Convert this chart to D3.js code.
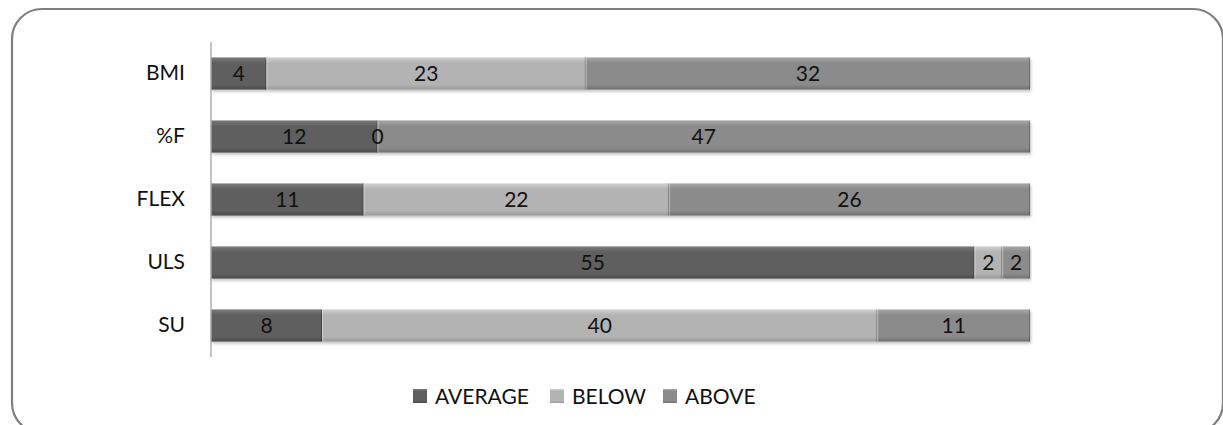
<!DOCTYPE html>
<html><head><meta charset="utf-8">
<script src="https://cdn.jsdelivr.net/npm/d3@7"></script>
<style>body{margin:0;background:#fff;}svg{display:block;font-family:Lato,"Open Sans",sans-serif;}</style>
</head><body>
<svg id="c" width="1223" height="425"></svg>
<script>
const categories = ["BMI","%F","FLEX","ULS","SU"];
const seriesNames = ["AVERAGE","BELOW","ABOVE"];
const average = [4,12,11,55,8];
const below = [23,0,22,2,40];
const above = [32,47,26,2,11];
const colors = {AVERAGE:["#7a7a7a","#5f5f5f","#4a4a4a"],BELOW:["#d0d0d0","#b3b3b3","#999"],ABOVE:["#a6a6a6","#8b8b8b","#707070"]};

const svg = d3.select("#c");
const defs = svg.append("defs");
seriesNames.forEach((s,i)=>{
  const g = defs.append("linearGradient").attr("id","g"+i).attr("x1",0).attr("y1",0).attr("x2",0).attr("y2",1);
  g.append("stop").attr("offset","0").attr("stop-color",colors[s][0]);
  g.append("stop").attr("offset","0.18").attr("stop-color",colors[s][1]);
  g.append("stop").attr("offset","0.85").attr("stop-color",colors[s][1]);
  g.append("stop").attr("offset","1").attr("stop-color",colors[s][2]);
});
const f = defs.append("filter").attr("id","sh").attr("x","-5%").attr("y","-20%").attr("width","110%").attr("height","160%");
f.append("feDropShadow").attr("dx",1).attr("dy",2).attr("stdDeviation",1.5).attr("flood-color","#000").attr("flood-opacity",0.25);

svg.append("rect").attr("x",12).attr("y",9).attr("width",1211).attr("height",424).attr("rx",30)
  .attr("fill","#fff").attr("stroke","#7f7f7f").attr("stroke-width",2.2);

const x = d3.scaleLinear().domain([0,59]).range([211,1030]);
const y = d3.scaleBand().domain(categories).range([42,357]).paddingInner(0.49).paddingOuter(0.245);

const data = categories.map((c,i)=>({cat:c,AVERAGE:average[i],BELOW:below[i],ABOVE:above[i]}));
const stacked = d3.stack().keys(seriesNames)(data);

stacked.forEach((layer,li)=>{
  const g = svg.append("g");
  layer.forEach(d=>{
    const x0=x(d[0]), x1=x(d[1]), yy=y(d.data.cat), h=y.bandwidth();
    g.append("rect").attr("x",x0).attr("y",yy).attr("width",Math.max(0,x1-x0)).attr("height",h)
      .attr("fill",`url(#g${li})`).attr("filter","url(#sh)");
    if (x1-x0>0) {
      g.append("line").attr("x1",x0+0.5).attr("x2",x0+0.5).attr("y1",yy).attr("y2",yy+h).attr("stroke","rgba(255,255,255,0.35)");
      g.append("line").attr("x1",x1-0.5).attr("x2",x1-0.5).attr("y1",yy).attr("y2",yy+h).attr("stroke","rgba(0,0,0,0.25)");
    }
  });
});
stacked.forEach((layer,li)=>{
  layer.forEach(d=>{
    const v = d[1]-d[0];
    svg.append("text").attr("x",(x(d[0])+x(d[1]))/2).attr("y",y(d.data.cat)+y.bandwidth()/2)
      .attr("dy","0.36em").attr("text-anchor","middle").attr("font-size",21).attr("fill","#111").text(v);
  });
});

const ax = svg.append("g").attr("transform","translate(211,0)").call(d3.axisLeft(y).tickSize(0).tickPadding(26));
ax.select(".domain").attr("stroke","#8a8a8a").attr("d","M0,42V357");
ax.selectAll("text").attr("font-size",21).attr("fill","#111").attr("font-family","Lato,'Open Sans',sans-serif");

const legendX = [413,550,663];
const lg = svg.append("g");
seriesNames.forEach((s,i)=>{
  lg.append("rect").attr("x",legendX[i]).attr("y",389).attr("width",14).attr("height",14).attr("fill",`url(#g${i})`);
  lg.append("text").attr("x",legendX[i]+22).attr("y",396).attr("dy","0.36em").attr("font-size",21).attr("fill","#111").text(s);
});
</script>
</body></html>
